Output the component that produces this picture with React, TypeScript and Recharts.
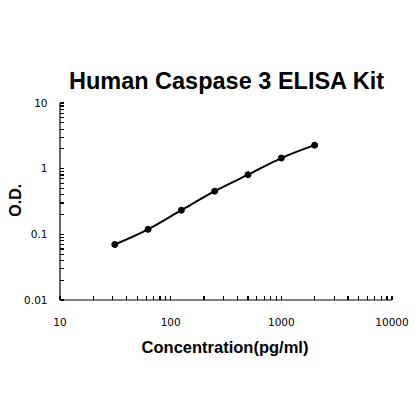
import React from "react";
import { LineChart, Line, XAxis, YAxis } from "recharts";

const concentrations = [31.25, 62.5, 125, 250, 500, 1000, 2000];
const odValues = [0.07, 0.119, 0.233, 0.454, 0.81, 1.45, 2.28];

const xMajorTicks = [10, 100, 1000, 10000];
const yMajorTicks = [0.01, 0.1, 1, 10];
const xTickLabels = ["10", "100", "1000", "10000"];
const yTickLabels = ["0.01", "0.1", "1", "10"];
const minorSteps = [1, 2, 3, 4, 5, 6, 7, 8, 9];

const withMinors = (majors: number[]) => {
  const out: number[] = [];
  majors.slice(0, -1).forEach((m) => {
    minorSteps.forEach((s) => out.push(+(m * s).toPrecision(3)));
  });
  out.push(majors[majors.length - 1]);
  return out;
};

const xTicks = withMinors(xMajorTicks);
const yTicks = withMinors(yMajorTicks);

const data = concentrations.map((c, i) => ({ conc: c, od: odValues[i] }));

const tickFont = { fontFamily: "DejaVu Sans", fontSize: 10.5, fill: "#000" };

const XTick = (props: any) => {
  const { x, y, payload } = props;
  const idx = xMajorTicks.indexOf(payload.value);
  return (
    <g>
      <line x1={x} x2={x} y1={y} y2={y - 4} stroke="#000" strokeWidth={1.2} shapeRendering="crispEdges" />
      {idx >= 0 && (
        <text x={x} y={y + 25.5} textAnchor="middle" {...tickFont}>
          {xTickLabels[idx]}
        </text>
      )}
    </g>
  );
};

const YTick = (props: any) => {
  const { x, y, payload } = props;
  const idx = yMajorTicks.indexOf(payload.value);
  return (
    <g>
      <line x1={x} x2={x + 4} y1={y} y2={y} stroke="#000" strokeWidth={1.2} shapeRendering="crispEdges" />
      {idx >= 0 && (
        <text x={x - 12.5} y={y + 3.8} textAnchor="end" {...tickFont}>
          {yTickLabels[idx]}
        </text>
      )}
    </g>
  );
};

export default function App() {
  return (
    <div style={{ position: "absolute", left: 0, top: 0, width: 420, height: 420, background: "#fff" }}>
      <LineChart
        width={420}
        height={420}
        data={data}
        margin={{ top: 103, right: 28, bottom: 90, left: 0 }}
      >
        <XAxis
          dataKey="conc"
          type="number"
          scale="log"
          domain={[10, 10000]}
          ticks={xTicks}
          interval={0}
          allowDataOverflow
          height={30}
          tickSize={0}
          tickMargin={0}
          tick={<XTick />}
          axisLine={{ stroke: "#000", strokeWidth: 1.2 }}
          tickLine={false}
        />
        <YAxis
          type="number"
          scale="log"
          domain={[0.01, 10]}
          ticks={yTicks}
          interval={0}
          allowDataOverflow
          width={60}
          tickSize={0}
          tickMargin={0}
          tick={<YTick />}
          axisLine={{ stroke: "#000", strokeWidth: 1.2 }}
          tickLine={false}
        />
        <Line
          dataKey="od"
          type="monotone"
          stroke="#000"
          strokeWidth={2}
          dot={{ r: 3, fill: "#000", stroke: "#000", strokeWidth: 1 }}
          isAnimationActive={false}
        />
      </LineChart>
      <svg
        width={420}
        height={420}
        style={{ position: "absolute", left: 0, top: 0, pointerEvents: "none" }}
      >
        <text
          x={226.5}
          y={89.3}
          textAnchor="middle"
          fontFamily="Liberation Sans, Arial"
          fontWeight="bold"
          fontSize={23.5}
          fill="#000"
        >
          Human Caspase 3 ELISA Kit
        </text>
        <text
          x={225}
          y={352.7}
          textAnchor="middle"
          fontFamily="Liberation Sans, Arial"
          fontWeight="bold"
          fontSize={16.5}
          fill="#000"
        >
          Concentration(pg/ml)
        </text>
        <text
          x={20.7}
          y={200.3}
          textAnchor="middle"
          transform="rotate(-90 20.7 200.3)"
          fontFamily="Liberation Sans, Arial"
          fontWeight="bold"
          fontSize={16}
          fill="#000"
        >
          O.D.
        </text>
      </svg>
    </div>
  );
}
